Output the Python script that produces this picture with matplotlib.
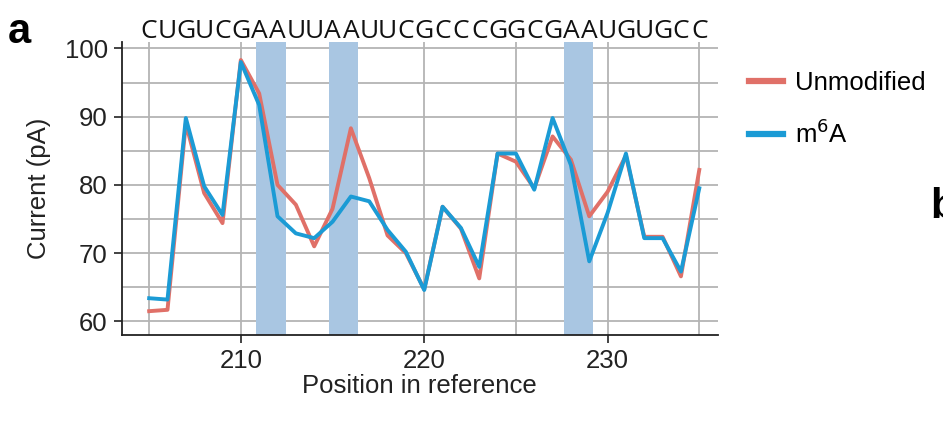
import matplotlib
matplotlib.use("Agg")
import matplotlib.pyplot as plt

plt.rcParams['font.family'] = ['Liberation Sans', 'DejaVu Sans']

# position in reference
positions = list(range(205, 236))
sequence = "CUGUCGAAUUAAUUCGCCCGGCGAAUGUGCC"

# mean current (pA)
unmodified = [61.5, 61.7, 89.0, 78.8, 74.4, 98.3, 93.4, 80.0, 77.1, 71.0,
              76.5, 88.3, 81.0, 72.6, 70.0, 64.7, 76.8, 73.6, 66.3, 84.6,
              83.4, 79.5, 87.1, 83.7, 75.4, 79.0, 84.3, 72.4, 72.4, 66.6, 82.2]
m6a = [63.4, 63.2, 89.8, 79.8, 75.6, 98.0, 91.7, 75.4, 72.9, 72.2,
       74.6, 78.3, 77.6, 73.4, 70.2, 64.6, 76.8, 73.7, 68.0, 84.6,
       84.6, 79.3, 89.8, 82.9, 68.8, 75.9, 84.6, 72.2, 72.2, 67.3, 79.5]

# highlighted m6A sites (start, end in reference position)
bands = [(210.8, 212.45), (214.8, 216.4), (227.6, 229.2)]

red = '#e07068'
blue = '#1b9bd5'
fs = 18.5

fig = plt.figure(figsize=(9.43, 4.22), dpi=100)
ax = fig.add_axes([0.129, 0.206, 0.632, 0.6955])

for start, end in bands:
    ax.axvspan(start, end, color='#a9c6e2', lw=0, zorder=1)

ax.plot(positions, unmodified, color=red, lw=2.8, label='Unmodified', zorder=3)
ax.plot(positions, m6a, color=blue, lw=2.8, label='m$^6$A', zorder=4)

ax.set_xlim(203.5, 236)
ax.set_ylim(58, 101)
ax.set_xticks([210, 220, 230])
ax.set_xticks(range(205, 236, 5), minor=True)
ax.set_yticks([60, 70, 80, 90, 100])
ax.set_yticks(range(60, 101, 5), minor=True)
ax.grid(True, which='both', color='#b4b4b4', lw=1.3, zorder=0)
ax.set_axisbelow(True)
ax.tick_params(which='minor', length=0)
ax.tick_params(which='major', labelsize=fs, length=6, width=1.2, color='#222222',
               labelcolor='#222222', pad=4)

for side in ['top', 'right']:
    ax.spines[side].set_visible(False)
for side in ['left', 'bottom']:
    ax.spines[side].set_linewidth(1.3)
    ax.spines[side].set_color('#222222')

ax.set_xlabel('Position in reference', fontsize=fs, color='#222222', labelpad=1)
ax.set_ylabel('Current (pA)', fontsize=fs, color='#222222', labelpad=10)

# sequence letters on top
for p, letter in zip(positions, sequence):
    ax.text(p, 1.036, letter, transform=ax.get_xaxis_transform(), ha='center', va='center',
            fontsize=19, color='#111111', family=['Open Sans', 'DejaVu Sans'])

leg = ax.legend(loc='upper left', bbox_to_anchor=(1.035, 0.935), frameon=False, fontsize=fs,
                handlelength=1.35, handletextpad=0.45, labelspacing=0.95, borderaxespad=0)
for line in leg.get_lines():
    line.set_linewidth(4.5)

fig.text(0.008, 0.925, 'a', fontsize=30, fontweight='bold', va='center')
fig.text(0.986, 0.51, 'b', fontsize=30, fontweight='bold', va='center')

fig.savefig('out.png', dpi=100)
